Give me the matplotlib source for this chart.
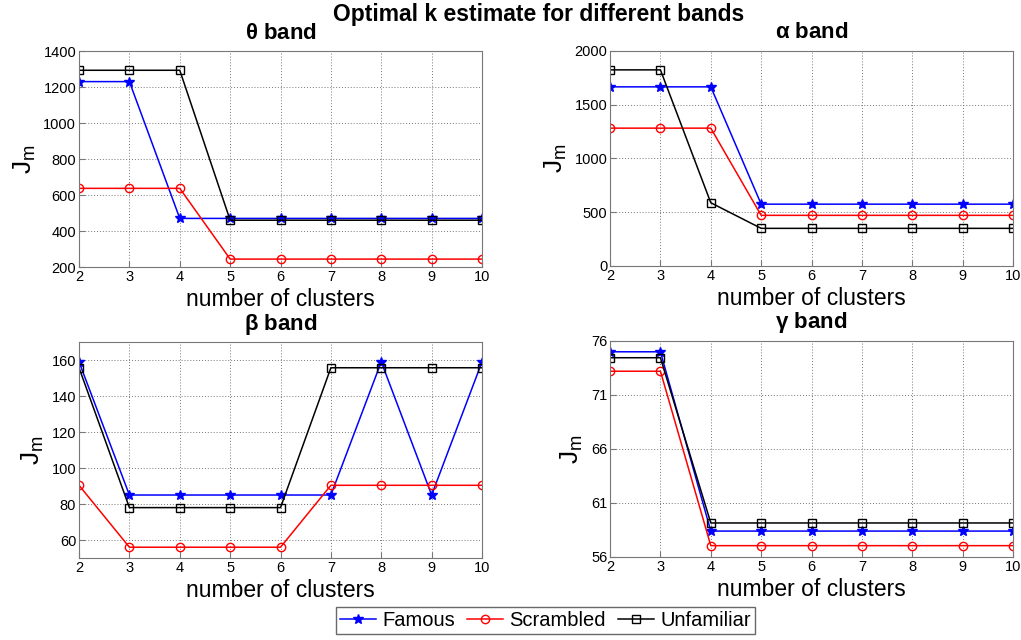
import numpy as np
import matplotlib
matplotlib.use("Agg")
import matplotlib.pyplot as plt

plt.rcParams['font.family'] = ['Liberation Sans', 'DejaVu Sans']
plt.rcParams['mathtext.default'] = 'regular'

k = [2, 3, 4, 5, 6, 7, 8, 9, 10]
series_names = ['Famous', 'Scrambled', 'Unfamiliar']

# theta band
theta_famous = [1230, 1230, 470, 470, 470, 470, 470, 470, 470]
theta_scrambled = [637, 637, 637, 244, 244, 244, 244, 244, 244]
theta_unfamiliar = [1293, 1293, 1293, 460, 460, 460, 460, 460, 460]

# alpha band
alpha_famous = [1666, 1666, 1666, 575, 575, 575, 575, 575, 575]
alpha_scrambled = [1282, 1282, 1282, 471, 471, 471, 471, 471, 471]
alpha_unfamiliar = [1824, 1824, 588, 350, 350, 350, 350, 350, 350]

# beta band
beta_famous = [159, 85, 85, 85, 85, 85, 159, 85, 159]
beta_scrambled = [90.4, 56, 56, 56, 56, 90.4, 90.4, 90.4, 90.4]
beta_unfamiliar = [155.7, 78, 78, 78, 78, 155.7, 155.7, 155.7, 155.7]

# gamma band
gamma_famous = [75.0, 75.0, 58.4, 58.4, 58.4, 58.4, 58.4, 58.4, 58.4]
gamma_scrambled = [73.2, 73.2, 57.05, 57.05, 57.05, 57.05, 57.05, 57.05, 57.05]
gamma_unfamiliar = [74.45, 74.45, 59.15, 59.15, 59.15, 59.15, 59.15, 59.15, 59.15]

panels = [
    (r'$\theta$ band', theta_famous, theta_scrambled, theta_unfamiliar, (200, 1400), [200, 400, 600, 800, 1000, 1200, 1400]),
    (r'$\alpha$ band', alpha_famous, alpha_scrambled, alpha_unfamiliar, (0, 2000), [0, 500, 1000, 1500, 2000]),
    (r'$\beta$ band', beta_famous, beta_scrambled, beta_unfamiliar, (50, 170), [60, 80, 100, 120, 140, 160]),
    (r'$\gamma$ band', gamma_famous, gamma_scrambled, gamma_unfamiliar, (56, 76), [56, 61, 66, 71, 76]),
]

fig = plt.figure(figsize=(10.21, 6.4), dpi=100)
rects = [
    [0.0774, 0.5828, 0.3947, 0.3375],
    [0.5975, 0.5844, 0.3947, 0.3360],
    [0.0774, 0.1281, 0.3947, 0.3375],
    [0.5975, 0.1297, 0.3947, 0.3375],
]

lines = []
for rect, (title, fam, scr, unf, ylim, yticks) in zip(rects, panels):
    ax = fig.add_axes(rect)
    l1, = ax.plot(k, fam, color='#0000ff', marker='*', markersize=7, lw=1.1, label='Famous')
    l2, = ax.plot(k, scr, color='#ff0000', marker='o', markersize=6, mfc='none', lw=1.1, label='Scrambled')
    l3, = ax.plot(k, unf, color='black', marker='s', markersize=5.5, mfc='none', lw=1.1, label='Unfamiliar')
    lines = [l1, l2, l3]
    ax.set_xlim(2, 10)
    ax.set_ylim(*ylim)
    ax.set_xticks(k)
    ax.set_yticks(yticks)
    ax.grid(True, linestyle=(0, (1, 2)), color='#777777', linewidth=0.7)
    ax.tick_params(direction='in', labelsize=10.5, pad=2, length=4, color='#777777')
    for s in ax.spines.values():
        s.set_color('#777777')
    ax.set_xlabel('number of clusters', fontsize=16.5, labelpad=3)
    ax.set_ylabel('$J_m$', fontsize=19, labelpad=4)
    ax.set_title(title, fontsize=16, fontweight='bold', pad=9)

fig.text(0.528, 0.978, 'Optimal k estimate for different bands', fontsize=16.5,
         fontweight='bold', ha='center', va='center')

fig.legend(lines, series_names, loc='center', bbox_to_anchor=(0.534, 0.031), ncol=3,
           fontsize=14.5, frameon=True, fancybox=False, edgecolor='#444444',
           handlelength=1.8, handletextpad=0.3, columnspacing=0.6, borderpad=0.2)

fig.savefig('out.png', dpi=100)
